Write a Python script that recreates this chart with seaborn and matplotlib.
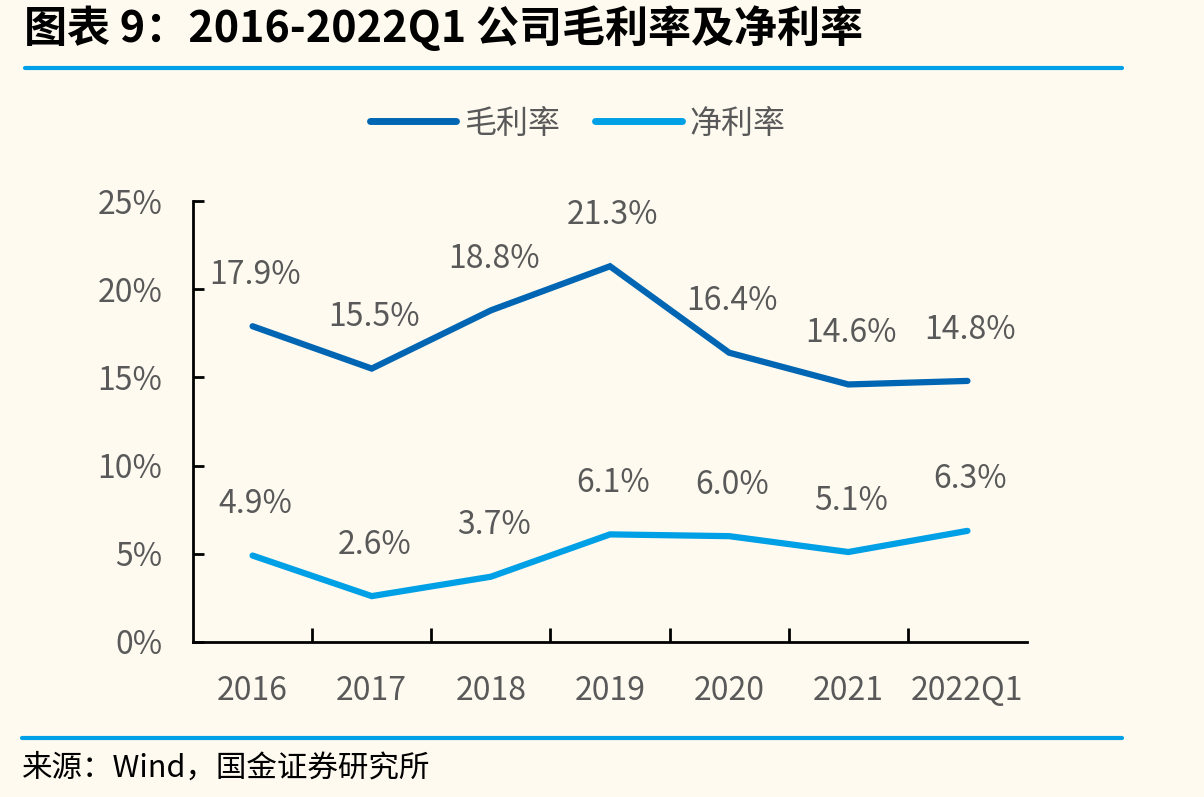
import numpy as np
import pandas as pd
import matplotlib
matplotlib.use("Agg")
import matplotlib.pyplot as plt
from matplotlib.lines import Line2D
import seaborn as sns

# data (percent)
YEARS = ["2016", "2017", "2018", "2019", "2020", "2021", "2022Q1"]
GROSS_MARGIN = [17.9, 15.5, 18.8, 21.3, 16.4, 14.6, 14.8]
NET_MARGIN = [4.9, 2.6, 3.7, 6.1, 6.0, 5.1, 6.3]
SERIES = ["毛利率", "净利率"]
COLORS = {"毛利率": "#0066B3", "净利率": "#00A0E6"}

BG = "#FEFAF0"
GREY = "#595959"

sns.set_theme(style="white")
plt.rcParams["font.family"] = ["Noto Sans CJK SC", "DejaVu Sans"]

df = pd.DataFrame({
    "year": YEARS * 2,
    "value": GROSS_MARGIN + NET_MARGIN,
    "series": [SERIES[0]] * len(YEARS) + [SERIES[1]] * len(YEARS),
})
df["x"] = df["year"].map({y: i for i, y in enumerate(YEARS)})

fig = plt.figure(figsize=(12.04, 7.97), dpi=100, facecolor=BG)
ax = fig.add_axes([0.1603, 0.1945, 0.853 - 0.1603, 0.7478 - 0.1945])
ax.set_facecolor(BG)

sns.lineplot(data=df, x="x", y="value", hue="series", palette=COLORS,
             hue_order=SERIES, linewidth=4.5, ax=ax, legend=False,
             solid_capstyle="round", solid_joinstyle="miter")

for _, r in df.iterrows():
    ax.annotate(f"{r['value']:.1f}%", xy=(r["x"], r["value"]),
                xytext=(2, 37), textcoords="offset points",
                ha="center", va="center", fontsize=23, color=GREY)

ax.set_xlim(-0.5, len(YEARS) - 0.5)
ax.set_ylim(0, 25)
ax.set_yticks(np.arange(0, 26, 5))
ax.set_yticklabels([f"{v}%" for v in range(0, 26, 5)])
ax.set_xticks(range(len(YEARS)))
ax.set_xticklabels(YEARS)
ax.set_xticks(np.arange(0.5, len(YEARS) - 0.5, 1), minor=True)
ax.set_xlabel("")
ax.set_ylabel("")

for s in ["top", "right"]:
    ax.spines[s].set_visible(False)
for s in ["left", "bottom"]:
    ax.spines[s].set_color("black")
    ax.spines[s].set_linewidth(2)

ax.tick_params(axis="y", direction="in", length=8, width=2, color="black",
               labelsize=23, labelcolor=GREY, pad=22, left=True)
ax.tick_params(axis="x", which="major", length=0, labelsize=23,
               labelcolor=GREY, pad=24)
ax.tick_params(axis="x", which="minor", direction="in", length=10, width=2,
               color="black", bottom=True)

handles = [Line2D([0], [0], color=COLORS[s], lw=5, solid_capstyle="round")
           for s in SERIES]
fig.legend(handles, SERIES, loc="center", bbox_to_anchor=(0.48, 0.845),
           ncol=2, frameon=False, fontsize=23, labelcolor=GREY,
           handlelength=2.7, handletextpad=0.25, columnspacing=1.1)

# title, rules and source
fig.text(0.02, 0.965, "图表 9：2016-2022Q1 公司毛利率及净利率",
         fontsize=31, fontweight="bold", fontstyle="italic", color="black",
         va="center", ha="left")
fig.add_artist(Line2D([0.021, 0.932], [0.915, 0.915], color="#00A0E9", lw=3))
fig.add_artist(Line2D([0.018, 0.932], [0.074, 0.074], color="#00A0E9", lw=3))
fig.text(0.018, 0.036, "来源：Wind，国金证券研究所", fontsize=22,
         color="black", va="center", ha="left")

fig.savefig("out.png", dpi=100, facecolor=BG)
